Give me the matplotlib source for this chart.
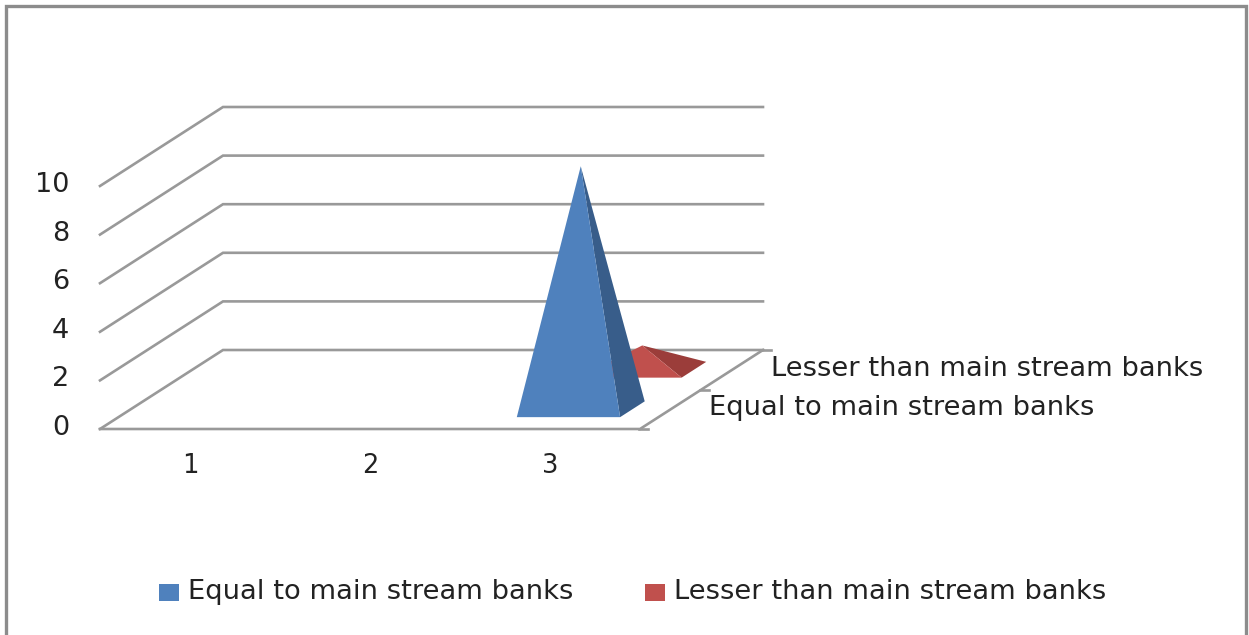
#!/usr/bin/env python3

import matplotlib
matplotlib.use("Agg")
import matplotlib.pyplot as plt
from matplotlib.patches import Polygon, Rectangle

categories = ["1", "2", "3"]
series_names = ["Equal to main stream banks", "Lesser than main stream banks"]
equal_values = [0, 0, 10]
lesser_values = [0, 0, 1]
y_ticks = [0, 2, 4, 6, 8, 10]

front_colors = ["#4f81bd", "#c0504d"]
side_colors = ["#385d8a", "#9b3d3a"]
grid_color = "#999999"
text_color = "#222222"

# oblique projection of the 3d box, everything in figure pixels
x0, y0 = 100, 429
floor_w = 540
unit_h = 24.3
depth_dx, depth_dy = 123, -79


def project(cat, value, depth):
    # cat runs 0..3 along the front, depth 0..1 from front to back
    px = x0 + cat / len(categories) * floor_w + depth * depth_dx
    py = y0 - value * unit_h + depth * depth_dy
    return px, py


plt.rcParams["font.family"] = ["DejaVu Sans"]
fig = plt.figure(figsize=(12.49, 6.35), dpi=100)
ax = fig.add_axes([0, 0, 1, 1])
ax.set_xlim(0, 1249)
ax.set_ylim(635, 0)
ax.axis("off")

# outer frame, open at the bottom
ax.plot([6.5, 6.5, 1246, 1246], [635, 5.5, 5.5, 635], color="#8c8c8c", lw=2.4,
        solid_joinstyle="miter")

# grid lines on side wall and back wall
for v in y_ticks:
    pts = [project(0, v, 0), project(0, v, 1), project(3, v, 1)]
    ax.plot(*zip(*pts), color=grid_color, lw=1.9, solid_joinstyle="miter", zorder=1)
    lx, ly = project(0, v, 0)
    ax.text(lx - 31, ly - 1, str(v), ha="right", va="center", fontsize=19.5, color=text_color)

# floor edges and the small ticks on the depth axis
floor = [project(0, 0, 0), project(3, 0, 0), project(3, 0, 1)]
ax.plot(*zip(*floor), color=grid_color, lw=1.9, solid_joinstyle="miter", zorder=1)
for d in [0, 0.5, 1]:
    px, py = project(3, 0, d)
    ax.plot([px - 1, px + 8], [py, py], color=grid_color, lw=1.9, zorder=1)

for i, c in enumerate(categories):
    px, py = project(i + 0.5, 0, 0)
    ax.text(px, py + 37, c, ha="center", va="center", fontsize=18.5, color=text_color)

# pyramids, back series first so the front one covers it
half_w = 0.287
half_d = 0.1
for s, values in reversed(list(enumerate([equal_values, lesser_values]))):
    center_d = 0.25 + 0.5 * s
    for i, v in enumerate(values):
        if v == 0:
            continue
        cat = i + 0.5
        fl = project(cat - half_w, 0, center_d - half_d)
        fr = project(cat + half_w, 0, center_d - half_d)
        br = project(cat + half_w, 0, center_d + half_d)
        apex = project(cat, v, center_d)
        ax.add_patch(Polygon([fr, br, apex], closed=True, color=side_colors[s], lw=0, zorder=3))
        ax.add_patch(Polygon([fl, fr, apex], closed=True, color=front_colors[s], lw=0, zorder=3))

# depth axis labels
ax.text(771, 369, series_names[1], ha="left", va="center", fontsize=19.7, color=text_color)
ax.text(709, 408, series_names[0], ha="left", va="center", fontsize=19.7, color=text_color)

# legend
legend_x = [159, 645]
for s, name in enumerate(series_names):
    ax.add_patch(Rectangle((legend_x[s], 584), 20, 17, color=front_colors[s], lw=0))
    ax.text(legend_x[s] + 29, 592, name, ha="left", va="center", fontsize=19.7, color=text_color)

fig.savefig("out.png", dpi=100)
